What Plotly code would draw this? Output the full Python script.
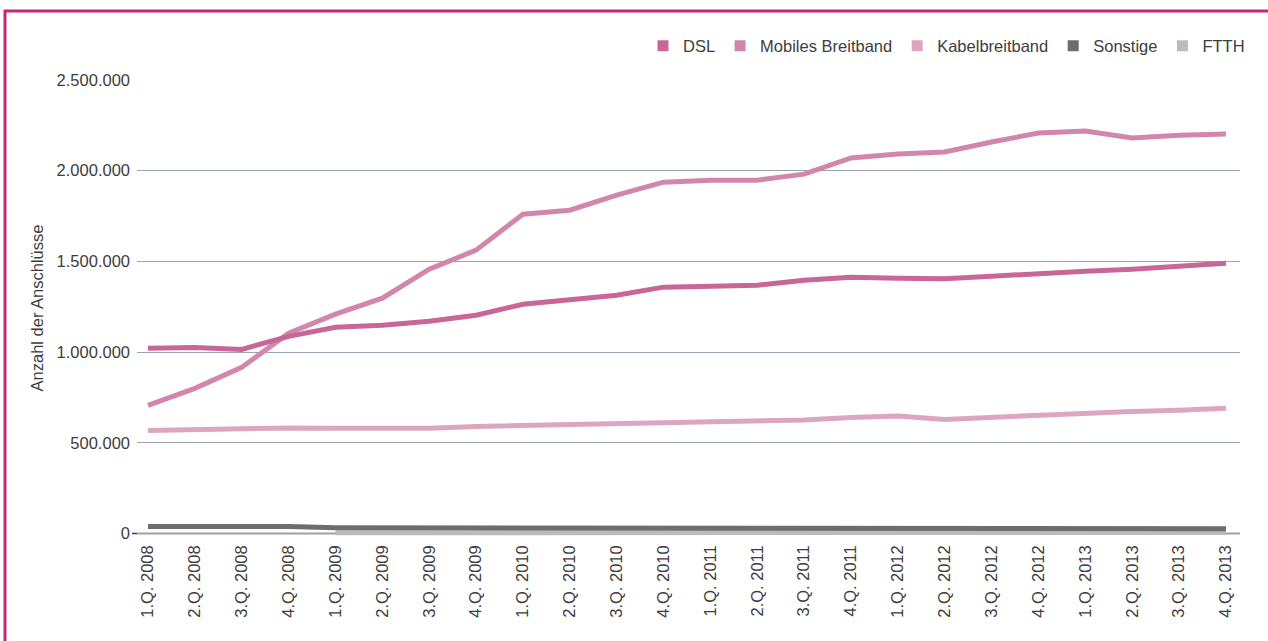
import plotly.graph_objects as go

quarters = ["1.Q. 2008", "2.Q. 2008", "3.Q. 2008", "4.Q. 2008",
            "1.Q. 2009", "2.Q. 2009", "3.Q. 2009", "4.Q. 2009",
            "1.Q. 2010", "2.Q. 2010", "3.Q. 2010", "4.Q. 2010",
            "1.Q. 2011", "2.Q. 2011", "3.Q. 2011", "4.Q. 2011",
            "1.Q. 2012", "2.Q. 2012", "3.Q. 2012", "4.Q. 2012",
            "1.Q. 2013", "2.Q. 2013", "3.Q. 2013", "4.Q. 2013"]

dsl = [1021000, 1026000, 1015000, 1087000, 1137000, 1148000, 1170000, 1203000,
       1264000, 1291000, 1313000, 1358000, 1363000, 1369000, 1396000, 1413000,
       1407000, 1405000, 1418000, 1435000, 1446000, 1457000, 1473000, 1490000]

mobil = [706000, 800000, 916000, 1104000, 1209000, 1297000, 1457000, 1562000,
         1760000, 1782000, 1865000, 1937000, 1948000, 1948000, 1981000, 2070000,
         2092000, 2103000, 2158000, 2208000, 2219000, 2180000, 2196000, 2202000]

kabel = [568000, 574000, 579000, 582000, 580000, 580000, 580000, 590000,
         596000, 599000, 602000, 610000, 618000, 621000, 626000, 640000,
         648000, 629000, 640000, 654000, 668000, 673000, 679000, 690000]

sonstige = [39000, 39000, 39000, 38000, 32000, 32000, 32000, 32000,
            32000, 32000, 32000, 32000, 32000, 32000, 32000, 29000,
            28000, 28000, 28000, 26000, 26000, 26000, 26000, 26000]

ftth = [None, None, None, None, 4000, 4000, 4000, 4000,
        4000, 4000, 4000, 4000, 5000, 5000, 5000, 5000,
        5000, 5000, 5000, 6000, 6000, 6000, 6000, 6000]

y_ticks = [0, 500000, 1000000, 1500000, 2000000, 2500000]

names = ["DSL", "Mobiles Breitband", "Kabelbreitband", "Sonstige", "FTTH"]
colors = {"DSL": "#c86797", "Mobiles Breitband": "#d386ab", "Kabelbreitband": "#dca6c1",
          "Sonstige": "#6c6c71", "FTTH": "#babac0"}
series = {"DSL": dsl, "Mobiles Breitband": mobil, "Kabelbreitband": kabel,
          "Sonstige": sonstige, "FTTH": ftth}

FONT = "Liberation Sans, Arial, sans-serif"
FS = 16.5
TXT = "#3d3d3d"
fig = go.Figure()

# lines (drawing order: bottom ones first)
for nm in ["FTTH", "Sonstige", "Kabelbreitband", "Mobiles Breitband", "DSL"]:
    fig.add_trace(go.Scatter(x=quarters, y=series[nm], mode="lines", name=nm,
                             line=dict(color=colors[nm], width=5),
                             showlegend=False, connectgaps=False))

# legend entries as squares
for nm in names:
    fig.add_trace(go.Scatter(x=[None], y=[None], mode="markers", name=nm,
                             marker=dict(symbol="square", size=11, color=colors[nm]),
                             showlegend=True))

L, R, T, B = 137, 1240, 80, 536
W, H = 1268, 641

def px(xp):
    return (xp - L) / (R - L)

def py(yp):
    return (B - yp) / (B - T)

fig.update_layout(
    width=W, height=H,
    margin=dict(l=L, r=W - R, t=T, b=H - B),
    paper_bgcolor="white", plot_bgcolor="white",
    separators=",.",
    font=dict(family=FONT, size=FS, color=TXT),
    legend=dict(orientation="h", x=px(1250), xanchor="right", y=py(46), yanchor="middle",
                font=dict(family=FONT, size=FS, color=TXT),
                bgcolor="rgba(0,0,0,0)", itemclick=False, traceorder="normal"),
    xaxis=dict(type="category", categoryorder="array", categoryarray=quarters,
               range=[-0.235, 23.3], showgrid=False, zeroline=False, showline=False,
               ticks="", tickangle=-90, ticklabelstandoff=5,
               tickfont=dict(family=FONT, size=FS, color=TXT)),
    yaxis=dict(range=[-13800, 2500000], tickvals=y_ticks, tickformat=",d",
               showgrid=True, gridcolor="#9ba4aa", gridwidth=1,
               zeroline=False, showline=False, ticks="", ticklabelstandoff=6,
               tickfont=dict(family=FONT, size=FS, color=TXT),
               title=dict(text="Anzahl der Anschlüsse", standoff=8,
                          font=dict(family=FONT, size=FS, color=TXT))),
    shapes=[
        # zero axis line
        dict(type="line", xref="paper", yref="y", x0=px(132), x1=1, y0=0, y1=0,
             line=dict(color="#3c3c3c", width=1.5), layer="below"),
        # magenta frame
        dict(type="line", xref="paper", yref="paper", x0=px(4), x1=px(1300),
             y0=py(11), y1=py(11), line=dict(color="#c2267f", width=3)),
        dict(type="line", xref="paper", yref="paper", x0=px(5), x1=px(5),
             y0=py(10), y1=py(700), line=dict(color="#c2267f", width=3)),
    ],
)

fig.write_html("out.html", config={"displayModeBar": False},
               post_script="document.body.style.margin='0';document.body.style.overflow='hidden';")
